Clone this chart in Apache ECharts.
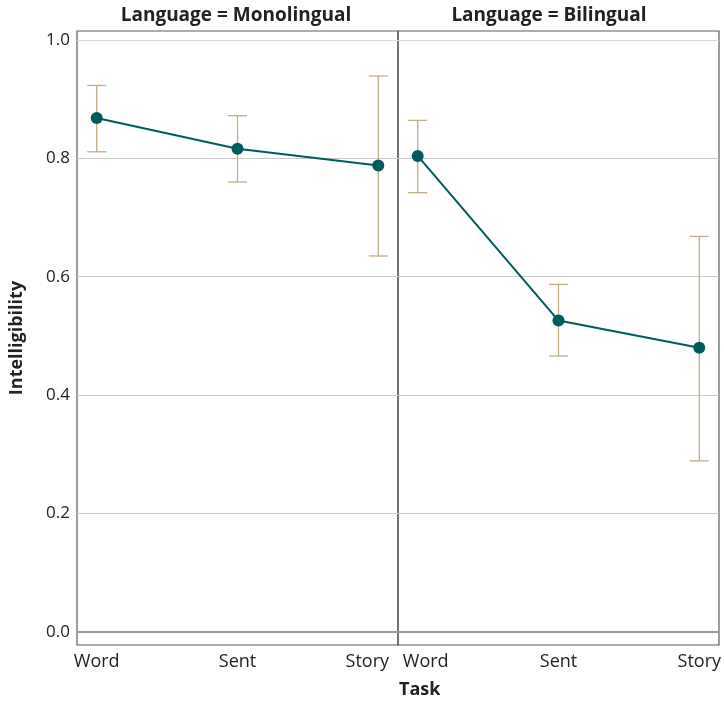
<!DOCTYPE html>
<html>
<head>
<meta charset="utf-8">
<script src="https://cdn.jsdelivr.net/npm/echarts@6/dist/echarts.min.js"></script>
<style>html,body{margin:0;padding:0;background:#fff}#c{width:724px;height:703px}</style>
</head>
<body>
<div id="c"></div>
<script>
const tasks = ['Word', 'Sent', 'Story'];
const panels = ['Language = Monolingual', 'Language = Bilingual'];
const monoMean = [0.868, 0.816, 0.788];
const monoLow = [0.811, 0.760, 0.635];
const monoHigh = [0.923, 0.872, 0.939];
const biMean = [0.804, 0.526, 0.480];
const biLow = [0.742, 0.466, 0.289];
const biHigh = [0.864, 0.587, 0.668];
const yTicks = [0, 0.2, 0.4, 0.6, 0.8, 1.0];

const FONT = '"Open Sans", "Noto Sans", sans-serif';
const LINE = '#005b5c';
const ERR = '#bfae86';

const chart = echarts.init(document.getElementById('c'));

function pts(means) { return means.map((m, i) => [i + 1, m]); }
function errs(lo, hi) { return lo.map((l, i) => [i + 1, l, hi[i]]); }

function errItem(params, api) {
  const x = api.value(0);
  const lo = api.coord([x, api.value(1)]);
  const hi = api.coord([x, api.value(2)]);
  const w = 9.5;
  const style = { stroke: ERR, lineWidth: 1.3 };
  return {
    type: 'group',
    children: [
      { type: 'line', shape: { x1: lo[0], y1: lo[1], x2: hi[0], y2: hi[1] }, style },
      { type: 'line', shape: { x1: lo[0] - w, y1: lo[1], x2: lo[0] + w, y2: lo[1] }, style },
      { type: 'line', shape: { x1: hi[0] - w, y1: hi[1], x2: hi[0] + w, y2: hi[1] }, style }
    ]
  };
}

function xAxis(gi, side) {
  return {
    type: 'value', gridIndex: gi, min: 0.86, max: 3.14,
    axisLine: { show: false }, axisTick: { show: false }, splitLine: { show: false },
    axisLabel: {
      customValues: [1, 2, 3],
      margin: 8,
      fontFamily: FONT, fontSize: 18, color: '#222',
      formatter: v => {
        const name = tasks[Math.round(v) - 1];
        if (side === 0 && Math.round(v) === 3) return '{l|' + name + '}';
        if (side === 1 && Math.round(v) === 1) return '{r|' + name + '}';
        return name;
      },
      rich: {
        l: { fontFamily: FONT, fontSize: 18, color: '#222', padding: [0, 22, 0, 0] },
        r: { fontFamily: FONT, fontSize: 18, color: '#222', padding: [0, 0, 0, 16] }
      }
    }
  };
}

function yAxis(gi, showLabels) {
  return {
    type: 'value', gridIndex: gi, min: -0.022, max: 1.015,
    axisLine: { show: false },
    axisTick: { show: false, customValues: yTicks },
    splitLine: { show: true, lineStyle: { color: ['#c8c8c8', '#c8c8c8', '#c8c8c8', '#c8c8c8', '#c8c8c8', '#d8d8d8'], width: 1.2 } },
    axisLabel: {
      show: showLabels, fontFamily: FONT, fontSize: 17, color: '#222', margin: 7,
      customValues: yTicks,
      formatter: v => v.toFixed(1)
    },
    name: showLabels ? 'Intelligibility' : '',
    nameLocation: 'middle', nameGap: 51,
    nameTextStyle: { fontFamily: FONT, fontSize: 18, fontWeight: 'bold', color: '#222' }
  };
}

const zeroLine = {
  silent: true, symbol: 'none', label: { show: false },
  lineStyle: { color: '#9a9a9a', width: 2, type: 'solid' },
  data: [{ yAxis: 0 }]
};

const option = {
  animation: false,
  backgroundColor: '#fff',
  title: [
    { text: panels[0], left: 236, top: 6, textAlign: 'center', padding: 0,
      textStyle: { fontFamily: FONT, fontSize: 19, fontWeight: 'bold', color: '#222' } },
    { text: panels[1], left: 549, top: 6, textAlign: 'center', padding: 0,
      textStyle: { fontFamily: FONT, fontSize: 19, fontWeight: 'bold', color: '#222' } }
  ],
  grid: [
    { left: 77, right: 326, top: 31, bottom: 58, show: true, borderColor: '#5a5a5a', borderWidth: 1.2 },
    { left: 398, right: 3, top: 31, bottom: 58, show: true, borderColor: '#5a5a5a', borderWidth: 1.2 }
  ],
  xAxis: [xAxis(0, 0), xAxis(1, 1)],
  yAxis: [yAxis(0, true), yAxis(1, false)],
  graphic: [
    { type: 'text', left: 399, top: 681, style: { text: 'Task', fontFamily: FONT, fontSize: 18, fontWeight: 'bold', fill: '#222', align: 'center' } }
  ],
  series: [
    { type: 'custom', xAxisIndex: 0, yAxisIndex: 0, data: errs(monoLow, monoHigh), renderItem: errItem, z: 1 },
    { type: 'custom', xAxisIndex: 1, yAxisIndex: 1, data: errs(biLow, biHigh), renderItem: errItem, z: 1 },
    { type: 'line', xAxisIndex: 0, yAxisIndex: 0, data: pts(monoMean), symbol: 'circle', symbolSize: 12,
      lineStyle: { color: LINE, width: 2 }, itemStyle: { color: LINE }, z: 3, markLine: zeroLine },
    { type: 'line', xAxisIndex: 1, yAxisIndex: 1, data: pts(biMean), symbol: 'circle', symbolSize: 12,
      lineStyle: { color: LINE, width: 2 }, itemStyle: { color: LINE }, z: 3, markLine: zeroLine }
  ]
};
chart.setOption(option);
</script>
</body>
</html>
